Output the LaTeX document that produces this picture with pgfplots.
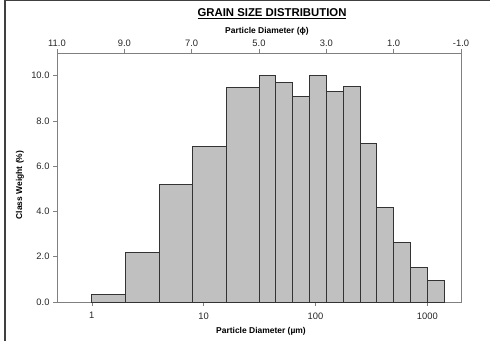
\documentclass[border=0pt]{standalone}
\usepackage{fontspec}
\setmainfont{Liberation Sans}
\usepackage{pgfplots}
\pgfplotsset{compat=1.18}
\definecolor{axgray}{RGB}{128,128,128}
\definecolor{barfill}{RGB}{192,192,192}
\begin{document}
\begin{tikzpicture}[x=1bp,y=1bp]
\useasboundingbox (0,0) rectangle (490,341);
\draw[black!75, line width=1.2bp] (5,0) -- (5,340.4) -- (490,340.4);
\begin{axis}[
  at={(57bp,39bp)}, anchor=south west, scale only axis,
  width=404bp, height=249bp,
  xmode=log, log basis x=10,
  xmin=0.48828125, xmax=2000, ymin=0, ymax=11,
  axis line style={axgray, line width=0.6bp},
  xtick={1,10,100,1000}, xticklabels={1,10,100,1000},
  xminorticks=false,
  ytick={0,2,4,6,8,10},
  yticklabel style={/pgf/number format/.cd, fixed, fixed zerofill, precision=1, assume math mode=true},
  tick align=outside, xtick pos=bottom, ytick pos=left,
  major tick length=4bp, tick style={axgray, line width=0.6bp},
  ticklabel style={font=\fontsize{9.4}{10}\selectfont, text=black!85},
  xticklabel shift=3bp,
]
\addplot[ybar interval, fill=barfill, draw=black!80, line width=0.8bp] coordinates {
  (1,0.35) (2,2.18) (4,5.21) (8,6.89) (16,9.48) (31.25,10.00)
  (44.19,9.68) (62.5,9.07) (88.39,10.00) (125,9.30) (176.78,9.53)
  (250,7.02) (353.55,4.17) (500,2.62) (707.11,1.52) (1000,0.97) (1414.21,0)
};
\end{axis}
\begin{axis}[
  at={(57bp,39bp)}, anchor=south west, scale only axis,
  width=404bp, height=249bp,
  xmode=log, log basis x=10,
  xmin=0.48828125, xmax=2000, ymin=0, ymax=11,
  axis x line*=top, hide y axis,
  x axis line style={-, axgray, line width=0.6bp},
  xtick={0.48828125,1.953125,7.8125,31.25,125,500,2000},
  xticklabels={11.0,9.0,7.0,5.0,3.0,1.0,-1.0},
  xminorticks=false,
  tick align=outside,
  major tick length=4bp, tick style={axgray, line width=0.6bp},
  ticklabel style={font=\fontsize{9.4}{10}\selectfont, text=black!85},
  xticklabel shift=-1bp,
]
\addplot[draw=none] coordinates {(1,0)};
\end{axis}
\node[font=\bfseries\fontsize{11.4}{13}\selectfont] at (272,327.5) {\underline{GRAIN SIZE DISTRIBUTION}};
\node[font=\bfseries\fontsize{8.5}{10}\selectfont] at (267,310) {Particle Diameter (ϕ)};
\node[font=\bfseries\fontsize{8.5}{10}\selectfont] at (261,9.5) {Particle Diameter (µm)};
\node[font=\bfseries\fontsize{8.5}{10}\selectfont, rotate=90] at (20,156) {Class Weight (\%)};
\end{tikzpicture}
\end{document}
